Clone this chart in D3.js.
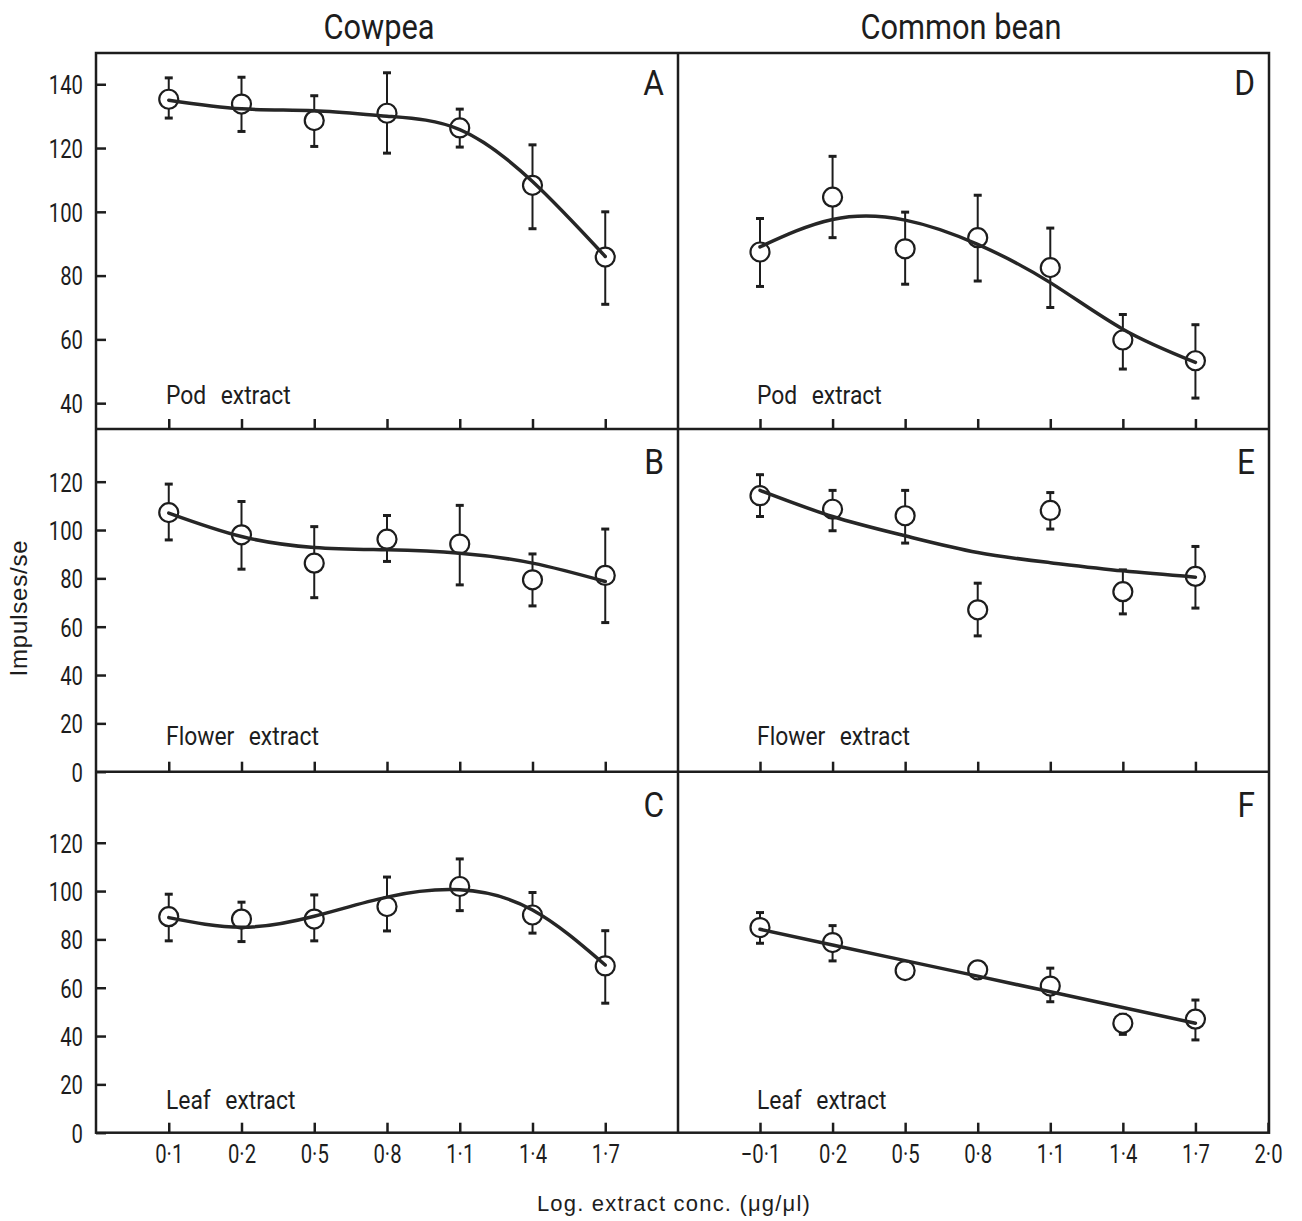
<!DOCTYPE html>
<html><head><meta charset="utf-8">
<script src="https://cdn.jsdelivr.net/npm/d3@7/dist/d3.min.js"></script>
<style>body{margin:0;background:#fff}</style>
</head><body><svg id="c" width="1302" height="1221"></svg>
<script>
// ---------- data ----------
const cowpeaLabels = ["0·1","0·2","0·5","0·8","1·1","1·4","1·7"];
const beanX = [-0.1,0.2,0.5,0.8,1.1,1.4,1.7];
const beanTickValues = [-0.1,0.2,0.5,0.8,1.1,1.4,1.7,2.0];
const beanTickLabels = ["−0·1","0·2","0·5","0·8","1·1","1·4","1·7","2·0"];
const topYTicks = [40,60,80,100,120,140];
const lowerYTicks = [0,20,40,60,80,100,120];

// A: cowpea pod
const podCowpeaMean  = [135.3,133.8,128.6,130.9,126.3,108.3,85.8];
const podCowpeaUpper = [142.0,142.2,136.4,143.6,132.2,121.0,100.0];
const podCowpeaLower = [129.4,125.2,120.5,118.4,120.3,94.7,71.0];
const podCowpeaFit   = [135.0,132.3,131.7,130.0,125.8,109.5,86.0];
// B: cowpea flower
const flowerCowpeaMean  = [107.2,98.0,86.3,96.2,94.2,79.4,81.2];
const flowerCowpeaUpper = [119.0,111.8,101.4,106.0,110.2,90.1,100.4];
const flowerCowpeaLower = [95.9,83.8,72.0,87.0,77.3,68.6,61.7];
const flowerCowpeaFit   = [107.0,97.3,92.8,91.8,90.4,86.3,78.7];
// C: cowpea leaf
const leafCowpeaMean  = [89.4,88.4,88.4,93.6,101.9,90.1,69.0];
const leafCowpeaUpper = [98.7,95.4,98.4,105.8,113.3,99.4,83.6];
const leafCowpeaLower = [79.4,79.1,79.4,83.5,91.9,82.6,53.6];
const leafCowpeaFit   = [89.0,85.0,89.6,97.5,100.5,92.2,69.4];
// D: common bean pod
const podBeanMean  = [87.4,104.6,88.4,91.9,82.5,59.8,53.3];
const podBeanUpper = [97.9,117.4,99.9,105.2,94.9,67.8,64.6];
const podBeanLower = [76.6,91.9,77.3,78.3,70.0,50.7,41.6];
const podBeanFit   = [89.0,97.6,97.4,89.8,77.8,63.2,52.8];
// E: common bean flower
const flowerBeanMean  = [114.2,108.6,105.9,67.0,108.1,74.5,80.8];
const flowerBeanUpper = [122.9,116.4,116.4,78.0,115.5,83.5,93.2];
const flowerBeanLower = [105.6,99.7,94.6,56.2,100.4,65.3,67.7];
const flowerBeanFit   = [116.4,105.6,97.6,90.7,86.5,83.1,80.5];
// F: common bean leaf
const leafBeanMean  = [84.9,78.7,67.1,67.4,60.7,45.3,47.0];
const leafBeanUpper = [91.1,85.7,null,null,68.1,49.0,54.9];
const leafBeanLower = [78.4,71.1,null,null,54.2,40.7,38.4];
const leafBeanFit   = [84.2,77.7,71.2,64.8,58.3,51.8,45.3];

// ---------- layout ----------
const L = 96, M = 678, R = 1269;
const rows = [
  {top:53, bottom:429, domain:[31.9,149.8], ticks:topYTicks, label:"Pod extract"},
  {top:429, bottom:771.7, domain:[0,141.8], ticks:lowerYTicks, label:"Flower extract"},
  {top:771.7, bottom:1132.7, domain:[0,149.4], ticks:lowerYTicks, label:"Leaf extract"}
];
rows.forEach(r => r.y = d3.scaleLinear().domain(r.domain).range([r.bottom, r.top]));

const ink = "#1d1d1d";
const condFont = "Roboto, 'DejaVu Sans', sans-serif";
const svg = d3.select("#c");

const xCow = d3.scalePoint().domain(cowpeaLabels).range([L, M]).padding(1);
const xBean = d3.scaleLinear().domain([-0.1, 2.0]).range([760, 1268]);

const panels = [
  {col:0,row:0,letter:"A",mean:podCowpeaMean,up:podCowpeaUpper,lo:podCowpeaLower,fit:podCowpeaFit,curve:d3.curveNatural},
  {col:0,row:1,letter:"B",mean:flowerCowpeaMean,up:flowerCowpeaUpper,lo:flowerCowpeaLower,fit:flowerCowpeaFit,curve:d3.curveNatural},
  {col:0,row:2,letter:"C",mean:leafCowpeaMean,up:leafCowpeaUpper,lo:leafCowpeaLower,fit:leafCowpeaFit,curve:d3.curveNatural},
  {col:1,row:0,letter:"D",mean:podBeanMean,up:podBeanUpper,lo:podBeanLower,fit:podBeanFit,curve:d3.curveNatural},
  {col:1,row:1,letter:"E",mean:flowerBeanMean,up:flowerBeanUpper,lo:flowerBeanLower,fit:flowerBeanFit,curve:d3.curveNatural},
  {col:1,row:2,letter:"F",mean:leafBeanMean,up:leafBeanUpper,lo:leafBeanLower,fit:leafBeanFit,curve:d3.curveLinear}
];

function condText(g, x, y, txt, size, sx, anchor, extra) {
  const t = g.append("text")
    .attr("transform", `translate(${x},${y}) scale(${sx},1)`)
    .attr("font-family", condFont).attr("font-size", size)
    .attr("fill", ink).attr("text-anchor", anchor || "start").text(txt);
  if (extra) extra(t);
  return t;
}

// ---------- axes ----------
rows.forEach((r, ri) => {
  const ya = svg.append("g").attr("transform", `translate(${L},0)`)
    .call(d3.axisLeft(r.y).tickValues(r.ticks).tickSize(-10).tickPadding(0));
  ya.select(".domain").remove();
  ya.selectAll(".tick line").attr("stroke", ink).attr("stroke-width", 2.5);
  ya.selectAll(".tick text").attr("x", 0).attr("dy", "0.36em")
    .attr("transform", "translate(-13,0) scale(0.78,1)")
    .attr("font-family", condFont).attr("font-size", 26).attr("fill", ink);

  const isBottom = ri === 2;
  const xa1 = svg.append("g").attr("transform", `translate(0,${r.bottom})`)
    .call(d3.axisBottom(xCow).tickSize(-10).tickFormat(d => isBottom ? d : ""));
  const xa2 = svg.append("g").attr("transform", `translate(0,${r.bottom})`)
    .call(d3.axisBottom(xBean).tickValues(isBottom ? beanTickValues : beanX).tickSize(-10)
      .tickFormat((d, i) => isBottom ? beanTickLabels[i] : ""));
  [xa1, xa2].forEach(a => {
    a.select(".domain").remove();
    a.selectAll(".tick line").attr("stroke", ink).attr("stroke-width", 2.5);
    a.selectAll(".tick text").attr("y", 30).attr("dy", 0)
      .attr("transform", "scale(0.78,1)")
      .attr("font-family", condFont).attr("font-size", 26).attr("fill", ink);
  });
});

// ---------- frame ----------
const frame = svg.append("g").attr("stroke", ink).attr("stroke-width", 2.5).attr("fill", "none");
frame.append("rect").attr("x", L).attr("y", rows[0].top).attr("width", R - L).attr("height", rows[2].bottom - rows[0].top);
frame.append("line").attr("x1", M).attr("x2", M).attr("y1", rows[0].top).attr("y2", rows[2].bottom);
[rows[0].bottom, rows[1].bottom].forEach(yy =>
  frame.append("line").attr("x1", L).attr("x2", R).attr("y1", yy).attr("y2", yy));

// ---------- data marks ----------
panels.forEach(p => {
  const r = rows[p.row];
  const y = r.y;
  const xf = i => p.col === 0 ? xCow(cowpeaLabels[i]) : xBean(beanX[i]);
  const idx = d3.range(p.mean.length);
  const g = svg.append("g");

  // error bars
  idx.filter(i => p.up[i] != null).forEach(i => {
    const x = xf(i);
    g.append("line").attr("x1", x).attr("x2", x).attr("y1", y(p.up[i])).attr("y2", y(p.lo[i]))
      .attr("stroke", ink).attr("stroke-width", 2);
    [p.up[i], p.lo[i]].forEach(v =>
      g.append("line").attr("x1", x - 4).attr("x2", x + 4).attr("y1", y(v)).attr("y2", y(v))
        .attr("stroke", ink).attr("stroke-width", 3));
  });

  // open circles
  g.selectAll("circle").data(idx).join("circle")
    .attr("cx", i => xf(i)).attr("cy", i => y(p.mean[i])).attr("r", 9.5)
    .attr("fill", "#fff").attr("stroke", ink).attr("stroke-width", 2.2);

  // fitted curve
  const line = d3.line().x(i => xf(i)).y(i => y(p.fit[i])).curve(p.curve);
  g.append("path").attr("d", line(idx)).attr("fill", "none")
    .attr("stroke", "#262626").attr("stroke-width", 3.5).attr("stroke-linecap", "round");

  // panel letter
  const right = p.col === 0 ? M : R;
  condText(svg, right - 14, r.top + (p.row === 0 ? 42 : 45), p.letter, 36, 0.88, "end");

  // extract label
  const lx = p.col === 0 ? 166 : 757;
  const ly = [404, 745, 1109][p.row];
  condText(svg, lx, ly, r.label, 26, 0.88, "start", t => t.attr("word-spacing", 10));
});

// ---------- titles ----------
condText(svg, 379, 39, "Cowpea", 35, 0.88, "middle");
condText(svg, 961, 39, "Common bean", 35, 0.88, "middle");

svg.append("text")
  .attr("transform", "translate(27,608) rotate(-90)")
  .attr("text-anchor", "middle")
  .attr("font-family", "'Liberation Sans', Arial, sans-serif")
  .attr("font-size", 24).attr("letter-spacing", 0.8).attr("fill", ink)
  .text("Impulses/se");

svg.append("text")
  .attr("x", 674).attr("y", 1211)
  .attr("text-anchor", "middle")
  .attr("font-family", "'Liberation Sans', Arial, sans-serif")
  .attr("font-size", 22).attr("letter-spacing", 1.2).attr("fill", ink)
  .text("Log. extract conc. (μg/μl)");
</script>
</body></html>
